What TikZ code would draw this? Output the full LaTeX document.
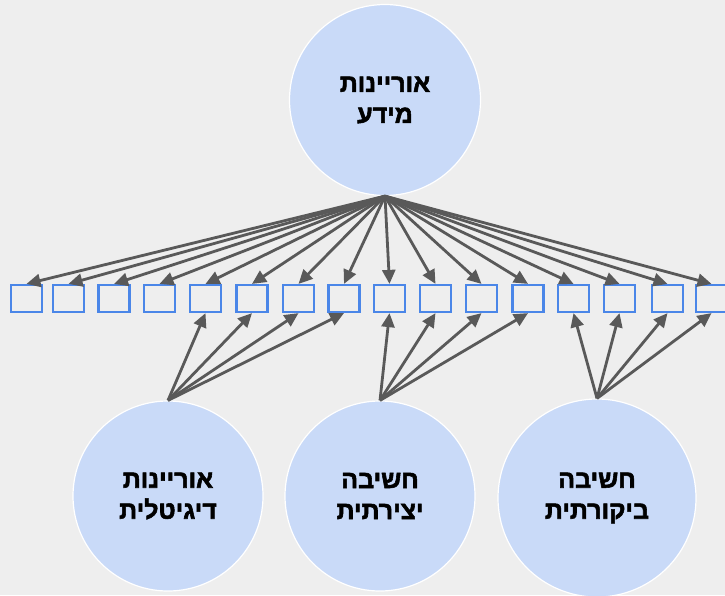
\documentclass[tikz,border=0pt]{standalone}
\usepackage{fontspec}
\setmainfont{Liberation Sans}
\newfontfamily\hebfont[Script=Hebrew,FakeBold=2.2]{Liberation Sans Bold}
\TeXXeTstate=1
\usetikzlibrary{arrows.meta}
\definecolor{bggray}{HTML}{EEEEEE}
\definecolor{skillfill}{HTML}{C9DAF8}
\definecolor{itemblue}{HTML}{4A86E8}
\definecolor{loadgray}{HTML}{595959}
\tikzset{
    skill/.style = {circle, fill=skillfill, draw=white, line width=1.2pt,
        minimum size=191pt, inner sep=0pt, align=center,
        font=\hebfont\fontsize{25}{31}\selectfont},
    item/.style = {rectangle, draw=itemblue, line width=2.2pt,
        minimum width=31pt, minimum height=27pt, inner sep=0pt},
    load/.style = {draw=loadgray, line width=2.8pt,
        -{Triangle[length=14pt,width=13pt]}}
}

\begin{document}
\begin{tikzpicture}[
        x = 1pt,
        y = -1pt
    ]
        \useasboundingbox (0,0) rectangle (725,595);
        \fill [bggray] (0,0) rectangle (725,595);
        \node [skill] (info) at (385,100) {\beginR אוריינות\endR\\\beginR מידע\endR};
        \node [skill, minimum size=190pt] (digital) at (168,496) {\beginR אוריינות\endR\\\beginR דיגיטלית\endR};
        \node [skill, minimum size=190pt] (creative) at (380,496) {\beginR חשיבה\endR\\\beginR יצירתית\endR};
        \node [skill, minimum size=198pt] (critical) at (597,498) {\beginR חשיבה\endR\\\beginR ביקורתית\endR};
        \foreach \x [count=\i] in {26.5,68.5,114,159.5,205.5,252,298.5,344,389.5,435.5,481.5,528,573.5,619.5,667.5,711.5}
            \node [item] (s\i) at (\x,298.5) {};
        \foreach \i in {1,...,16}
            \draw [load] (info.south) -- (s\i.north);
        \foreach \i in {5,...,8}
            \draw [load] (digital.north) -- (s\i.south);
        \foreach \i in {9,...,12}
            \draw [load] (creative.north) -- (s\i.south);
        \foreach \i in {13,...,16}
            \draw [load] (critical.north) -- (s\i.south);
\end{tikzpicture}
\end{document}
